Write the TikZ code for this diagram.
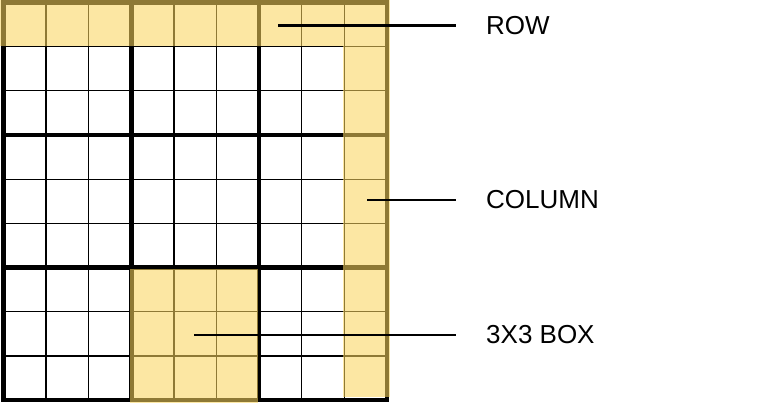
\documentclass[tikz,border=0pt]{standalone}
\usepackage{fontspec}
\setmainfont{Liberation Sans}
\definecolor{hlfill}{RGB}{250,214,94}
\begin{document}
\begin{tikzpicture}[x=1pt,y=-1pt,
  thinline/.style={draw=black,line width=1.3pt},
  thickline/.style={draw=black,line width=4.6pt},
  hl/.style={fill=hlfill,fill opacity=0.57},
  leader/.style={draw=black,line width=2.2pt},
  lbl/.style={inner sep=0pt,anchor=west,font=\fontsize{26}{30}\selectfont}]
\useasboundingbox (0,0) rectangle (768,403);
\fill[white] (0,0) rectangle (768,403);
% thin grid lines
\foreach \i in {1,2,4,5,7,8}{
  \draw[thinline] ({3.5+\i*42.61},2.5) -- ({3.5+\i*42.61},400);
  \draw[thinline] (3.5,{2.5+\i*44.17}) -- (387,{2.5+\i*44.17});
}
% thick grid lines
\foreach \i in {3,6}{
  \draw[thickline] ({3.5+\i*42.61},2.5) -- ({3.5+\i*42.61},400);
  \draw[thickline] (3.5,{2.5+\i*44.17}) -- (387,{2.5+\i*44.17});
}
\draw[thickline,line join=miter] (3.5,2.5) rectangle (387,400);
% highlights
\fill[hl] (0,0) rectangle (389.5,46);
\fill[hl] (343.2,46) rectangle (389.5,396.5);
\fill[hl] (129.5,269.2) rectangle (257.5,403);
% labels and leaders
\coordinate (rowpt) at (278,25.5);
\coordinate (colpt) at (367,200);
\coordinate (boxpt) at (194,335);
\node[lbl] (rowlbl) at (486,25.5) {ROW};
\node[lbl] (collbl) at (486,200) {COLUMN};
\node[lbl] (boxlbl) at (486,335) {3X3 BOX};
\draw[leader] (rowpt) -- ([xshift=-30pt]rowlbl.west);
\draw[leader] (colpt) -- ([xshift=-30pt]collbl.west);
\draw[leader] (boxpt) -- ([xshift=-30pt]boxlbl.west);
\end{tikzpicture}
\end{document}
